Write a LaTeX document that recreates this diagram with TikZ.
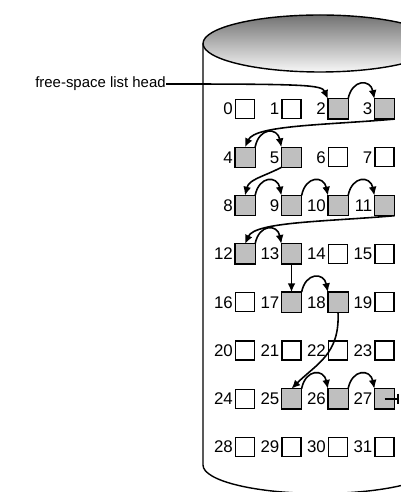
\documentclass[tikz,border=0pt]{standalone}
\usepackage{fontspec}
\setmainfont{Liberation Sans}
\usetikzlibrary{arrows.meta, positioning}

\tikzset{
    blk/.style={draw, line width=0.7pt, fill=white, minimum size=0.38cm, inner sep=0pt},
    freeblk/.style={fill=black!25, line width=0.7pt},
    num/.style={inner sep=0pt, font=\fontsize{9.6}{11}\selectfont},
    link/.style={line width=0.9pt, -{Latex[length=5pt, width=4.5pt]}}
}

\begin{document}
\begin{tikzpicture}[x=0.02cm, y=-0.02cm]
        \useasboundingbox (0,0) rectangle (401,492);
        \clip (0,0) rectangle (401,492);

        % Disk cylinder
        \shade[top color=black!55, bottom color=black!3] (320,43.5) ellipse [x radius=2.34cm, y radius=0.57cm];
        \draw[line width=0.8pt] (320,43.5) ellipse [x radius=2.34cm, y radius=0.57cm];
        \draw[line width=0.8pt] (203,43.5) -- (203,465)
            arc[start angle=180, end angle=360, x radius=2.34cm, y radius=0.57cm] -- (437,43.5);

        % Blocks with their numbers
        \foreach \i in {0,...,31}{
            \pgfmathtruncatemacro{\rw}{div(\i,4)}
            \pgfmathtruncatemacro{\cl}{mod(\i,4)}
            \node[blk] (b\i) at ({245+46.5*\cl},{109+48.3*\rw}) {};
            \node[num, left=1pt of b\i] (l\i) {\i};
        }

        % Free blocks
        \foreach \i in {2,3,4,5,8,9,10,11,12,13,17,18,25,26,27}
            \filldraw[freeblk] (b\i.south west) rectangle (b\i.north east);

        % List head
        \node[anchor=east, inner sep=0pt, font=\fontsize{8.5}{10}\selectfont] (head) at (166,84) {free-space list head};
        \draw[link] (head.east) .. controls +(140,0) and +(-6,-14) .. (b2.north west);

        % Links between neighbouring blocks
        \foreach \a/\b in {2/3,4/5,8/9,9/10,10/11,12/13,17/18,25/26,26/27}
            \draw[link] (b\a.north east) .. controls +(4,-20) and +(-4,-20) .. (b\b.north west);

        % Links to the next row
        \draw[link] (b3.south east) .. controls +(-70,6) and +(10,-22) .. (b4.north);
        \draw[link] (b5.south west) .. controls +(-20,10) and +(4,-16) .. (b8.north);
        \draw[link] (b11.south east) .. controls +(-70,6) and +(10,-22) .. (b12.north);
        \draw[link] (b13) -- (b17);
        \draw[link] (b18.south) .. controls +(2,42) and +(25,-25) .. (b25.north);

        % End of list
        \draw[line width=0.9pt, -{Bar[width=6pt]}] (b27.center) -- ++(14,0) coordinate (nil);
    \end{tikzpicture}
\end{document}
